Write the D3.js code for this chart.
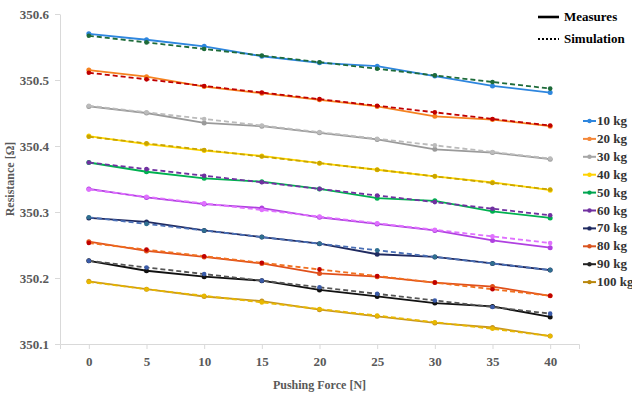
<!DOCTYPE html>
<html>
<head>
<meta charset="utf-8">
<script src="https://cdn.jsdelivr.net/npm/d3@7"></script>
<style>
  body { margin: 0; background: #fff; }
</style>
</head>
<body>
<div id="chart"></div>
<script>
// categories (pushing force, N)
const forces = [0, 5, 10, 15, 20, 25, 30, 35, 40];
const loads = ['10 kg', '20 kg', '30 kg', '40 kg', '50 kg', '60 kg', '70 kg', '80 kg', '90 kg', '100 kg'];
const yTicks = [350.1, 350.2, 350.3, 350.4, 350.5, 350.6];

// measured resistance per load
const measured = [
    [350.570, 350.561, 350.551, 350.536, 350.526, 350.521, 350.506, 350.491, 350.481],
    [350.515, 350.505, 350.490, 350.480, 350.470, 350.460, 350.445, 350.440, 350.430],
    [350.460, 350.450, 350.435, 350.430, 350.420, 350.410, 350.395, 350.390, 350.380],
    [350.415, 350.403, 350.393, 350.385, 350.374, 350.364, 350.354, 350.345, 350.333],
    [350.375, 350.361, 350.351, 350.346, 350.335, 350.321, 350.317, 350.301, 350.291],
    [350.335, 350.322, 350.312, 350.306, 350.292, 350.282, 350.272, 350.257, 350.246],
    [350.291, 350.285, 350.272, 350.262, 350.252, 350.236, 350.232, 350.222, 350.212],
    [350.255, 350.241, 350.232, 350.222, 350.207, 350.202, 350.193, 350.187, 350.173],
    [350.226, 350.211, 350.202, 350.196, 350.182, 350.172, 350.162, 350.157, 350.141],
    [350.195, 350.183, 350.172, 350.165, 350.152, 350.142, 350.132, 350.125, 350.112]
];

// simulated resistance per load
const simulated = [
    [350.567, 350.557, 350.547, 350.537, 350.527, 350.517, 350.507, 350.497, 350.487],
    [350.511, 350.501, 350.491, 350.481, 350.471, 350.461, 350.451, 350.441, 350.431],
    [350.461, 350.451, 350.441, 350.431, 350.421, 350.411, 350.401, 350.391, 350.381],
    [350.414, 350.404, 350.394, 350.384, 350.374, 350.364, 350.354, 350.344, 350.334],
    [350.375, 350.365, 350.355, 350.345, 350.335, 350.325, 350.315, 350.305, 350.295],
    [350.334, 350.323, 350.313, 350.303, 350.293, 350.283, 350.273, 350.263, 350.253],
    [350.292, 350.282, 350.272, 350.262, 350.252, 350.242, 350.232, 350.222, 350.212],
    [350.253, 350.243, 350.233, 350.223, 350.213, 350.203, 350.193, 350.183, 350.173],
    [350.226, 350.216, 350.206, 350.196, 350.186, 350.176, 350.166, 350.156, 350.146],
    [350.194, 350.183, 350.173, 350.163, 350.153, 350.143, 350.133, 350.123, 350.112]
];

// colours
const legendColors = ['#2e86de', '#f4883a', '#a6a6a6', '#ffd200', '#00a550', '#7030a0', '#1f2a60', '#d9531e', '#222222', '#b8860b'];
const measColors = ['#2e86de', '#f58220', '#9a9a9a', '#ffd700', '#00b050', '#b040e0', '#1f2a60', '#e0501a', '#111111', '#c8961e'];
const simColors = ['#1e6b3a', '#c00000', '#bbbbbb', '#c9a400', '#7030a0', '#e070ff', '#4a6fb5', '#f07020', '#555555', '#e8b800'];
const simMarkColors = ['#1e6b3a', '#c00000', '#bbbbbb', '#c9a400', '#7030a0', '#e070ff', '#2f6f8f', '#c00000', '#3a5ba9', '#e8b800'];

const FONT = '"Liberation Serif", "Times New Roman", "DejaVu Serif", serif';

const W = 632, H = 398;
const margin = { top: 14, right: 53, bottom: 54, left: 60 };

const svg = d3.select('#chart').append('svg')
    .attr('width', W)
    .attr('height', H)
    .attr('font-family', FONT)
    .attr('font-weight', 'bold');

const x = d3.scalePoint()
    .domain(forces)
    .range([margin.left, W - margin.right])
    .padding(0.5);

const y = d3.scaleLinear()
    .domain([350.1, 350.6])
    .range([H - margin.bottom, margin.top]);

// axes
const xAxis = svg.append('g')
    .attr('transform', `translate(0,${H - margin.bottom})`)
    .call(d3.axisBottom(x).tickSize(5).tickSizeOuter(5).tickPadding(8));

const yAxis = svg.append('g')
    .attr('transform', `translate(${margin.left},0)`)
    .call(d3.axisLeft(y).tickValues(yTicks).tickFormat(d3.format('.1f')).tickSize(5).tickSizeOuter(0).tickPadding(6));

[xAxis, yAxis].forEach(a => {
    a.attr('font-family', FONT).attr('font-weight', 'bold');
    a.select('.domain').attr('stroke', '#d9d9d9');
    a.selectAll('.tick line').attr('stroke', '#d9d9d9');
    a.selectAll('.tick text')
        .attr('fill', '#595959')
        .style('font-size', '13px');
});

// axis titles
svg.append('text')
    .attr('transform', `translate(14,${(margin.top + H - margin.bottom) / 2}) rotate(-90)`)
    .attr('text-anchor', 'middle')
    .attr('fill', '#595959')
    .style('font-size', '12px')
    .text('Resistance [Ω]');

svg.append('text')
    .attr('x', (margin.left + W - margin.right) / 2)
    .attr('y', 389)
    .attr('text-anchor', 'middle')
    .attr('fill', '#595959')
    .style('font-size', '12px')
    .text('Pushing Force [N]');

const line = d3.line()
    .x((d, i) => x(forces[i]))
    .y(d => y(d));

const plot = svg.append('g');

// draw each load: measured solid then simulation dashed
loads.forEach((name, k) => {
    const g = plot.append('g').attr('class', 'load');

    g.append('path')
        .datum(measured[k])
        .attr('fill', 'none')
        .attr('stroke', measColors[k])
        .attr('stroke-width', 1.8)
        .attr('d', line);

    g.selectAll('.m-pt')
        .data(measured[k])
        .join('circle')
        .attr('class', 'm-pt')
        .attr('cx', (d, i) => x(forces[i]))
        .attr('cy', d => y(d))
        .attr('r', 2.5)
        .attr('fill', measColors[k]);

    g.append('path')
        .datum(simulated[k])
        .attr('fill', 'none')
        .attr('stroke', simColors[k])
        .attr('stroke-width', 1.8)
        .attr('stroke-dasharray', '5,3')
        .attr('d', line);

    g.selectAll('.s-pt')
        .data(simulated[k])
        .join('circle')
        .attr('class', 's-pt')
        .attr('cx', (d, i) => x(forces[i]))
        .attr('cy', d => y(d))
        .attr('r', 2.3)
        .attr('fill', simMarkColors[k]);
});

// legend: line style
const styleLegend = svg.append('g');
[['Measures', null], ['Simulation', '2,2']].forEach((d, i) => {
    const yy = 17 + i * 22;
    styleLegend.append('line')
        .attr('x1', 538).attr('x2', 559)
        .attr('y1', yy).attr('y2', yy)
        .attr('stroke', '#000')
        .attr('stroke-width', d[1] ? 2 : 2.6)
        .attr('stroke-dasharray', d[1]);
    styleLegend.append('text')
        .attr('x', 564)
        .attr('y', yy + 4)
        .attr('fill', '#000')
        .style('font-size', '13px')
        .text(d[0]);
});

// legend: loads
const loadLegend = svg.append('g');
loads.forEach((name, k) => {
    const yy = 121 + k * 17.9;
    loadLegend.append('line')
        .attr('x1', 583).attr('x2', 596)
        .attr('y1', yy).attr('y2', yy)
        .attr('stroke', legendColors[k])
        .attr('stroke-width', 2);
    loadLegend.append('circle')
        .attr('cx', 589.5).attr('cy', yy)
        .attr('r', 2.2)
        .attr('fill', legendColors[k]);
    loadLegend.append('text')
        .attr('x', 597)
        .attr('y', yy + 4)
        .attr('fill', '#333')
        .style('font-size', '13px')
        .text(name);
});
</script>
</body>
</html>
